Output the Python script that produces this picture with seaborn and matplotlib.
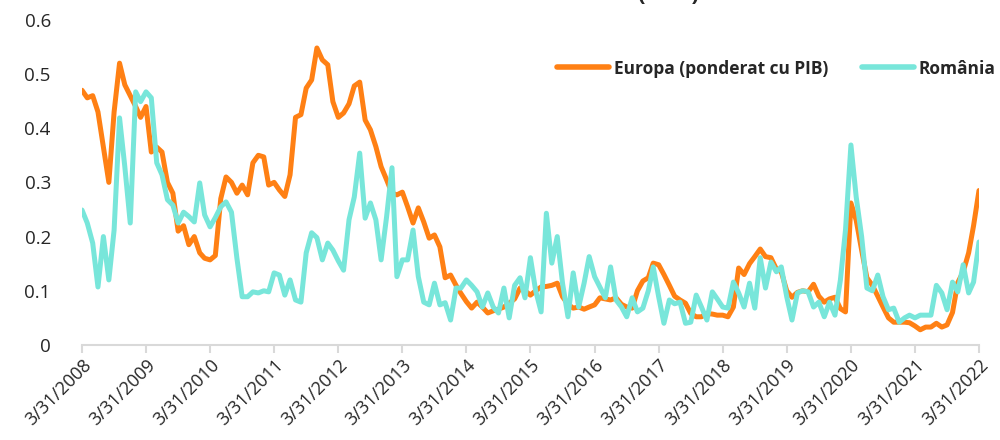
import pandas as pd
import numpy as np
import matplotlib
matplotlib.use('Agg')
import matplotlib.pyplot as plt
import seaborn as sns

# monthly values, 3/31/2008 - 3/31/2022
europa = [0.47, 0.456, 0.46, 0.43, 0.365, 0.30, 0.43, 0.52, 0.48, 0.46, 0.44, 0.42,
          0.44, 0.356, 0.365, 0.356, 0.30, 0.28, 0.21, 0.22, 0.185, 0.20, 0.17, 0.16,
          0.157, 0.165, 0.27, 0.31, 0.30, 0.28, 0.295, 0.277, 0.336, 0.35, 0.347, 0.295,
          0.30, 0.286, 0.274, 0.314, 0.42, 0.425, 0.474, 0.489, 0.548, 0.526, 0.517, 0.449,
          0.42, 0.428, 0.445, 0.478, 0.485, 0.415, 0.397, 0.366, 0.329, 0.305, 0.28, 0.277,
          0.282, 0.255, 0.225, 0.253, 0.227, 0.197, 0.203, 0.181, 0.124, 0.129, 0.11, 0.095,
          0.08, 0.068, 0.079, 0.07, 0.059, 0.063, 0.066, 0.07, 0.077, 0.085, 0.105, 0.10,
          0.092, 0.10, 0.107, 0.108, 0.11, 0.114, 0.089, 0.075, 0.068, 0.07, 0.066, 0.07,
          0.074, 0.087, 0.085, 0.083, 0.087, 0.075, 0.07, 0.068, 0.10, 0.118, 0.124, 0.151,
          0.148, 0.13, 0.11, 0.09, 0.083, 0.077, 0.058, 0.052, 0.052, 0.058, 0.057, 0.055,
          0.055, 0.052, 0.07, 0.142, 0.13, 0.15, 0.163, 0.177, 0.163, 0.161, 0.14, 0.135,
          0.10, 0.088, 0.097, 0.10, 0.098, 0.112, 0.09, 0.079, 0.085, 0.088, 0.067, 0.061,
          0.262, 0.23, 0.175, 0.124, 0.11, 0.09, 0.07, 0.05, 0.042, 0.042, 0.042, 0.041,
          0.035, 0.028, 0.033, 0.033, 0.04, 0.033, 0.037, 0.06, 0.115, 0.135, 0.17, 0.22,
          0.285]

romania = [0.249, 0.225, 0.188, 0.107, 0.20, 0.12, 0.212, 0.419, 0.329, 0.225, 0.467, 0.449,
           0.467, 0.456, 0.336, 0.314, 0.268, 0.258, 0.225, 0.245, 0.237, 0.227, 0.299, 0.24,
           0.218, 0.235, 0.255, 0.264, 0.245, 0.16, 0.089, 0.089, 0.098, 0.096, 0.10, 0.098,
           0.133, 0.129, 0.092, 0.12, 0.083, 0.079, 0.17, 0.207, 0.198, 0.157, 0.188, 0.175,
           0.155, 0.138, 0.231, 0.273, 0.354, 0.234, 0.262, 0.231, 0.157, 0.236, 0.327, 0.126,
           0.157, 0.157, 0.212, 0.126, 0.079, 0.074, 0.114, 0.074, 0.078, 0.046, 0.105, 0.105,
           0.12, 0.11, 0.098, 0.07, 0.096, 0.07, 0.059, 0.105, 0.05, 0.11, 0.124, 0.087,
           0.161, 0.10, 0.061, 0.243, 0.151, 0.20, 0.114, 0.052, 0.133, 0.07, 0.114, 0.163,
           0.126, 0.107, 0.087, 0.144, 0.083, 0.07, 0.052, 0.087, 0.061, 0.068, 0.10, 0.144,
           0.089, 0.04, 0.083, 0.076, 0.079, 0.04, 0.042, 0.092, 0.07, 0.046, 0.098, 0.085,
           0.07, 0.068, 0.116, 0.096, 0.07, 0.114, 0.068, 0.161, 0.105, 0.153, 0.135, 0.144,
           0.089, 0.046, 0.096, 0.10, 0.098, 0.07, 0.079, 0.052, 0.079, 0.055, 0.12, 0.212,
           0.369, 0.273, 0.20, 0.105, 0.10, 0.129, 0.089, 0.065, 0.068, 0.042, 0.05, 0.055,
           0.05, 0.055, 0.055, 0.055, 0.11, 0.096, 0.065, 0.116, 0.098, 0.148, 0.096, 0.116,
           0.19]

dates = pd.date_range('2008-03-31', '2022-03-31', freq='ME')
series_names = ['Europa (ponderat cu PIB)', 'România']
colors = ['#FF8014', '#78E6DA']

df = pd.DataFrame({'data': dates, series_names[0]: europa, series_names[1]: romania})
df = df.melt(id_vars='data', var_name='serie', value_name='valoare')

sns.set_style('white')
plt.rcParams['font.family'] = ['Open Sans', 'DejaVu Sans']

fig = plt.figure(figsize=(10, 4.4), dpi=100)
ax = fig.add_axes([0.082, 0.216, 0.897, 0.739])

sns.lineplot(data=df, x='data', y='valoare', hue='serie', palette=colors,
             linewidth=3.6, ax=ax, legend=False)
for line in ax.get_lines():
    line.set_solid_joinstyle('round')
    line.set_solid_capstyle('round')

ax.set_xlim(dates[0], dates[-1])
ax.set_ylim(0, 0.6)
ax.set_yticks(np.arange(0, 0.61, 0.1))
ax.set_yticklabels(['0', '0.1', '0.2', '0.3', '0.4', '0.5', '0.6'], fontsize=13.5)

tick_dates = [d for d in dates if d.month == 3]
ax.set_xticks(tick_dates)
ax.set_xticklabels([f'{d.month}/{d.day}/{d.year}' for d in tick_dates],
                   rotation=45, ha='right', rotation_mode='anchor', fontsize=13)
ax.set_xlabel('')
ax.set_ylabel('')

for s in ['top', 'right', 'left']:
    ax.spines[s].set_visible(False)
ax.spines['bottom'].set_color('#d9d9d9')
ax.spines['bottom'].set_linewidth(1.5)
ax.tick_params(axis='x', which='major', bottom=True, length=6, width=1.5,
               color='#d9d9d9', pad=2)
ax.tick_params(axis='y', left=False, pad=19)

handles = [plt.Line2D([], [], color=c, linewidth=4, solid_capstyle='round') for c in colors]
ax.legend(handles, series_names, ncol=2, frameon=False, loc='center right',
          bbox_to_anchor=(1.036, 0.85), prop={'weight': 'bold', 'size': 12.5},
          handlelength=3.0, handletextpad=0.3, columnspacing=1.9)

# title cut off by the top edge, as in the source image
fig.text(0.668, 1.012, '(        )', ha='center', va='center', fontsize=16, fontweight='bold')

fig.savefig('out.png', dpi=100)
